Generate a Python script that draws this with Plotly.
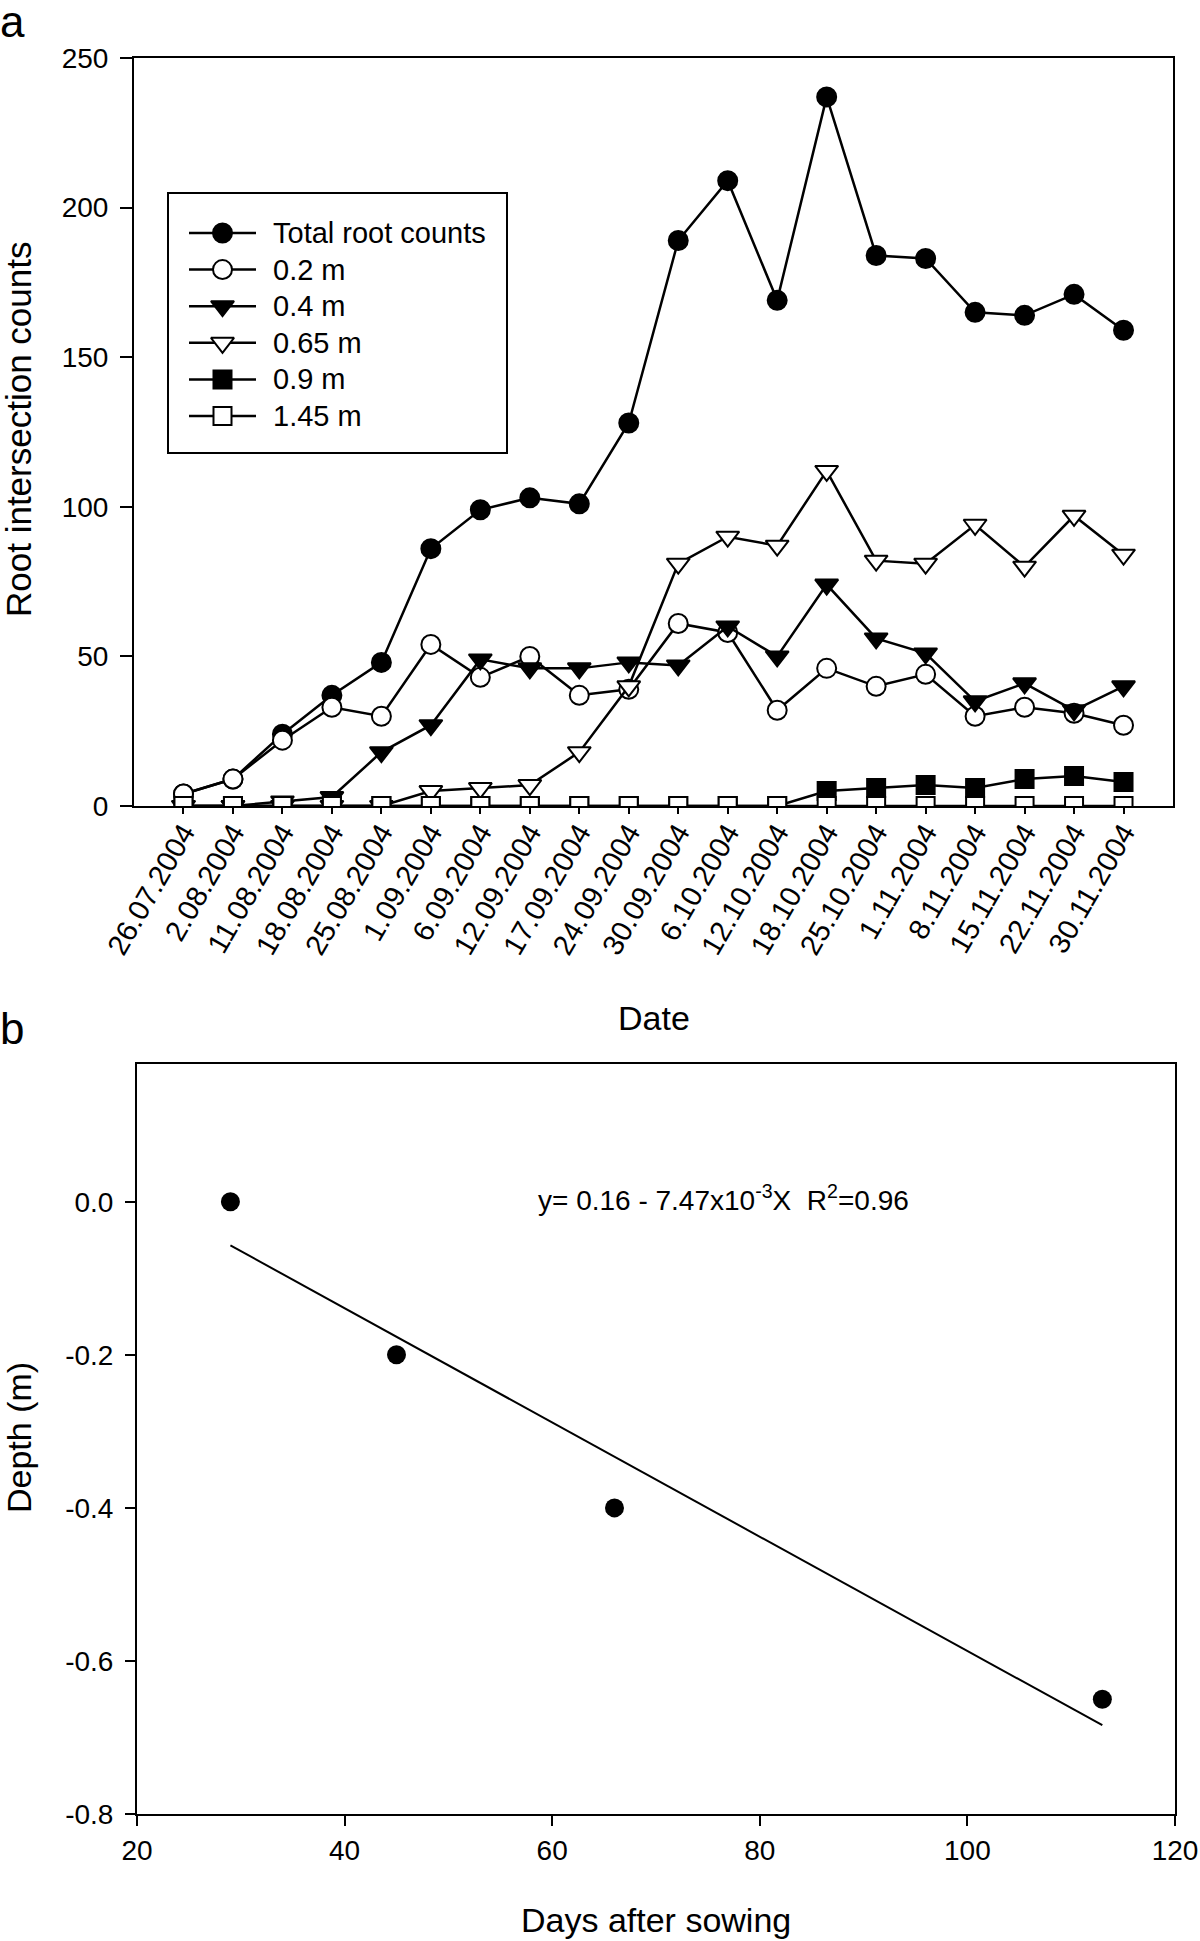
import plotly.graph_objects as go

# ---------------- Data: panel a ----------------
dates = ["26.07.2004", "2.08.2004", "11.08.2004", "18.08.2004", "25.08.2004",
         "1.09.2004", "6.09.2004", "12.09.2004", "17.09.2004", "24.09.2004",
         "30.09.2004", "6.10.2004", "12.10.2004", "18.10.2004", "25.10.2004",
         "1.11.2004", "8.11.2004", "15.11.2004", "22.11.2004", "30.11.2004"]

total = [4, 9, 24, 37, 48, 86, 99, 103, 101, 128, 189, 209, 169, 237, 184, 183, 165, 164, 171, 159]
d020 = [4, 9, 22, 33, 30, 54, 43, 50, 37, 39, 61, 58, 32, 46, 40, 44, 30, 33, 31, 27]
d040 = [0, 0, 1.5, 3, 18, 27, 49, 46, 46, 48, 47, 60, 50, 74, 56, 51, 35, 41, 32, 40]
d065 = [0, 0, 0, 0, 0, 5, 6, 7, 18, 40, 81, 90, 87, 112, 82, 81, 94, 80, 97, 84]
d090 = [0, 0, 0, 0, 0, 0, 0, 0, 0, 0, 0, 0, 0, 5, 6, 7, 6, 9, 10, 8]
d145 = [0] * 20

y_ticks_a = [0, 50, 100, 150, 200, 250]

# ---------------- Data: panel b ----------------
days = [29, 45, 66, 113]
depth = [0.0, -0.2, -0.4, -0.65]
fit_x = [29, 113]
fit_y = [-0.057, -0.684]
x_ticks_b = [20, 40, 60, 80, 100, 120]
y_ticks_b = [0.0, -0.2, -0.4, -0.6, -0.8]
y_ticktext_b = ["0.0", "-0.2", "-0.4", "-0.6", "-0.8"]

FONT = "Liberation Sans, Arial, Helvetica, sans-serif"
W, H = 1200, 1941

fig = go.Figure()

series = [
    ("Total root counts", total, "circle", "black", 19),
    ("0.2 m", d020, "circle", "white", 19),
    ("0.4 m", d040, "triangle-down", "black", 20),
    ("0.65 m", d065, "triangle-down", "white", 20),
    ("0.9 m", d090, "square", "black", 18),
    ("1.45 m", d145, "square", "white", 18),
]
for name, vals, sym, fill, size in series:
    fig.add_trace(go.Scatter(
        x=dates, y=vals, name=name, mode="lines+markers",
        line=dict(color="black", width=2.5),
        marker=dict(symbol=sym, color=fill, size=size,
                    line=dict(color="black", width=2)),
        xaxis="x", yaxis="y", showlegend=False,
    ))

fig.add_trace(go.Scatter(
    x=fit_x, y=fit_y, mode="lines", line=dict(color="black", width=2),
    xaxis="x2", yaxis="y2", showlegend=False))
fig.add_trace(go.Scatter(
    x=days, y=depth, mode="markers",
    marker=dict(symbol="circle", color="black", size=19),
    xaxis="x2", yaxis="y2", showlegend=False))

# ---------------- legend (drawn in its own pixel-like frame) ----------------
LG_L, LG_R, LG_T, LG_B = 168, 507, 193, 453
lg_row0, lg_step = 233, 36.6
lg_line = [189, 256]
lg_text_x = 271
ann = []
for i, (name, vals, sym, fill, size) in enumerate(series):
    yy = lg_row0 + i * lg_step
    fig.add_trace(go.Scatter(
        x=lg_line, y=[yy, yy], mode="lines", line=dict(color="black", width=2.5),
        xaxis="x3", yaxis="y3", showlegend=False, hoverinfo="skip"))
    fig.add_trace(go.Scatter(
        x=[sum(lg_line) / 2], y=[yy], mode="markers",
        marker=dict(symbol=sym, color=fill, size=size, line=dict(color="black", width=2)),
        xaxis="x3", yaxis="y3", showlegend=False, hoverinfo="skip"))
    ann.append(dict(text=name, x=lg_text_x, y=yy, xref="x3", yref="y3",
                    xanchor="left", yanchor="middle", showarrow=False,
                    font=dict(family=FONT, size=29, color="black")))

axis_common = dict(showgrid=False, zeroline=False, showline=True, linecolor="black",
                   linewidth=2, ticks="outside", tickcolor="black", tickwidth=2,
                   tickfont=dict(family=FONT, size=28, color="black"), automargin=False,
                   ticklabeloverflow="allow")

fig.update_layout(
    width=W, height=H,
    margin=dict(l=0, r=0, t=0, b=0),
    paper_bgcolor="white", plot_bgcolor="white",
    font=dict(family=FONT, color="black"),
    showlegend=False,
    xaxis=dict(axis_common, domain=[134 / W, 1173 / W], anchor="y",
               type="category", categoryorder="array", categoryarray=dates,
               range=[-1, 20], tickangle=-60, ticklen=6, mirror=True,
               tickfont=dict(family=FONT, size=29, color="black"),
               ticklabelstandoff=-10),
    yaxis=dict(axis_common, domain=[1 - 806 / H, 1 - 58 / H], anchor="x",
               range=[0, 250], tickvals=y_ticks_a, ticklen=12, mirror=True,
               ticklabelstandoff=6),
    xaxis2=dict(axis_common, domain=[137 / W, 1175 / W], anchor="y2",
                range=[20, 120], tickvals=x_ticks_b, ticklen=10, mirror=True),
    yaxis2=dict(axis_common, domain=[1 - 1814 / H, 1 - 1064 / H], anchor="x2",
                range=[-0.8, 0.18], tickvals=y_ticks_b, ticktext=y_ticktext_b,
                ticklen=10, mirror=True, ticklabelstandoff=6),
    xaxis3=dict(domain=[LG_L / W, LG_R / W], anchor="y3", range=[LG_L, LG_R],
                visible=False, fixedrange=True),
    yaxis3=dict(domain=[1 - LG_B / H, 1 - LG_T / H], anchor="x3", range=[LG_B, LG_T],
                visible=False, fixedrange=True),
    shapes=[dict(type="rect", xref="paper", yref="paper",
                 x0=LG_L / W, x1=LG_R / W, y0=1 - LG_B / H, y1=1 - LG_T / H,
                 line=dict(color="black", width=2), fillcolor="rgba(0,0,0,0)")],
)

# panel labels
ann.append(dict(text="a", x=-2 / W, y=1 + 5 / H, xref="paper", yref="paper",
                xanchor="left", yanchor="top", showarrow=False,
                font=dict(family=FONT, size=44, color="black")))
ann.append(dict(text="b", x=-2 / W, y=1 - 1002 / H, xref="paper", yref="paper",
                xanchor="left", yanchor="top", showarrow=False,
                font=dict(family=FONT, size=44, color="black")))
# axis titles
ann.append(dict(text="Root intersection counts", x=19 / W, y=1 - 430 / H,
                xref="paper", yref="paper", textangle=-90, showarrow=False,
                xanchor="center", yanchor="middle",
                font=dict(family=FONT, size=35, color="black")))
ann.append(dict(text="Date", x=654 / W, y=1 - 1018 / H, xref="paper", yref="paper",
                showarrow=False, xanchor="center", yanchor="middle",
                font=dict(family=FONT, size=34, color="black")))
ann.append(dict(text="Depth (m)", x=19 / W, y=1 - 1438 / H,
                xref="paper", yref="paper", textangle=-90, showarrow=False,
                xanchor="center", yanchor="middle",
                font=dict(family=FONT, size=34, color="black")))
ann.append(dict(text="Days after sowing", x=656 / W, y=1 - 1920 / H,
                xref="paper", yref="paper", showarrow=False,
                xanchor="center", yanchor="middle",
                font=dict(family=FONT, size=34, color="black")))
# regression equation
ann.append(dict(text="y= 0.16 - 7.47x10<sup>-3</sup>X  R<sup>2</sup>=0.96",
                x=76.5, y=0.005, xref="x2", yref="y2", showarrow=False,
                xanchor="center", yanchor="middle",
                font=dict(family=FONT, size=28, color="black")))
fig.update_layout(annotations=ann)

fig.write_html("out.html", config={"displayModeBar": False},
               post_script="document.body.style.margin='0';")
